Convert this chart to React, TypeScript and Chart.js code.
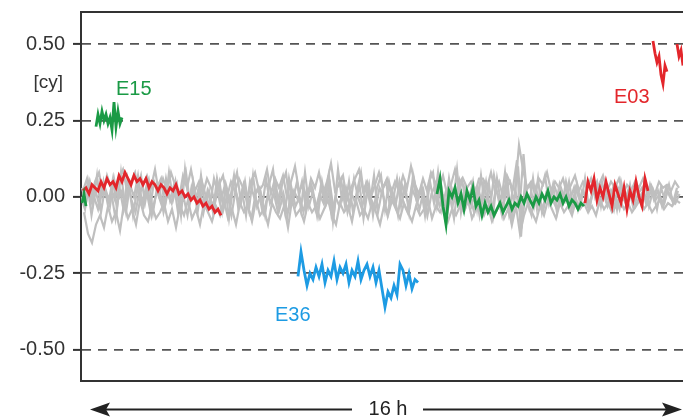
import React, { useEffect, useRef } from "react";
import { Chart, registerables } from "chart.js";

Chart.register(...registerables);

const yTicks = [-0.5, -0.25, 0, 0.25, 0.5];
const STEP_GRAY = 4;

const grayA = [
  0.02,0.06,-0.02,0.05,0.08,0.01,0.07,0.03,-0.01,0.06,0.09,0.02,0.05,0.08,0.00,0.04,0.07,0.03,0.09,0.01,
  0.06,0.02,0.08,0.04,-0.01,0.07,0.03,0.09,0.02,0.05,0.01,0.06,0.03,-0.02,0.04,0.07,0.00,0.05,0.02,0.06,
  0.03,-0.01,0.05,0.08,0.02,0.04,0.09,0.01,0.06,0.03,0.07,0.00,0.05,0.10,0.02,0.04,-0.01,0.06,0.03,0.08,
  0.01,0.05,0.11,0.02,0.04,0.07,-0.01,0.03,0.06,0.09,0.02,0.05,0.00,0.04,0.08,0.03,0.06,0.01,0.05,0.02,
  0.07,0.03,0.10,0.04,0.01,0.06,0.02,0.08,0.05,0.03,0.07,0.01,0.04,0.09,0.02,0.06,0.03,0.05,0.01,0.06,
  0.06,0.03,0.08,0.02,0.05,0.00,0.07,0.04,0.02,0.17,0.09,0.03,0.05,0.01,0.06,0.04,0.08,0.02,0.05,0.03,
  0.06,0.01,0.04,0.07,0.02,0.05,0.03,0.06,0.00,0.04,0.07,0.02,0.05,0.03,0.06,0.01,0.04,0.02,0.05,0.03,
  0.06,0.02,0.04,0.01,0.05,0.03,0.04,0.02,0.05,0.03,
];
const grayB = [
  -0.05,-0.12,-0.15,-0.09,-0.06,-0.10,-0.03,-0.08,-0.05,-0.11,-0.02,-0.07,-0.04,-0.09,-0.01,-0.06,-0.08,-0.03,-0.07,-0.05,
  -0.02,-0.08,-0.04,-0.10,-0.03,-0.06,-0.01,-0.07,-0.04,-0.09,-0.02,-0.05,-0.08,-0.03,-0.06,-0.01,-0.07,-0.04,-0.09,-0.02,
  -0.05,-0.03,-0.08,-0.01,-0.06,-0.04,-0.09,-0.02,-0.05,-0.07,-0.03,-0.10,-0.01,-0.06,-0.04,-0.08,-0.02,-0.05,-0.03,-0.07,
  -0.04,-0.01,-0.06,-0.09,-0.02,-0.05,-0.03,-0.08,-0.01,-0.06,-0.04,-0.07,-0.02,-0.05,-0.09,-0.03,-0.06,-0.01,-0.04,-0.07,
  -0.02,-0.05,-0.08,-0.03,-0.06,-0.04,-0.01,-0.07,-0.03,-0.05,-0.02,-0.08,-0.04,-0.06,-0.03,-0.05,-0.01,-0.07,-0.04,-0.02,
  -0.06,-0.03,-0.08,-0.05,-0.02,-0.07,-0.04,-0.09,-0.03,-0.12,-0.06,-0.02,-0.05,-0.08,-0.03,-0.06,-0.01,-0.04,-0.07,-0.02,
  -0.05,-0.03,-0.06,-0.01,-0.04,-0.02,-0.05,-0.03,-0.06,-0.01,-0.04,-0.02,-0.05,-0.03,-0.01,-0.04,-0.02,-0.05,-0.03,-0.01,
  -0.04,-0.02,-0.05,-0.03,-0.01,-0.04,-0.02,-0.03,-0.01,-0.02,
];
const grayC = [
  0.00,-0.04,0.05,-0.02,0.07,-0.05,0.03,-0.01,0.06,-0.04,0.08,-0.03,0.04,-0.06,0.02,0.07,-0.02,0.05,-0.05,0.03,
  0.06,-0.03,0.08,-0.01,0.04,-0.06,0.09,-0.02,0.05,-0.04,0.07,-0.03,0.02,-0.05,0.06,-0.01,0.04,-0.07,0.03,0.08,
  -0.02,0.05,-0.04,0.07,-0.03,0.01,-0.06,0.04,0.09,-0.02,0.03,-0.05,0.06,-0.01,0.05,-0.04,0.08,-0.03,0.02,-0.06,
  0.04,-0.02,0.07,-0.08,0.03,0.06,-0.03,0.05,-0.05,0.02,0.08,-0.02,0.04,-0.06,0.03,0.07,-0.04,0.05,-0.01,0.06,
  -0.03,0.04,-0.05,0.07,-0.02,0.03,-0.06,0.05,0.08,-0.03,0.04,-0.04,0.06,-0.02,0.09,-0.05,0.03,-0.01,0.05,-0.04,
  0.07,-0.03,0.04,-0.06,0.06,-0.02,0.08,-0.05,0.03,0.12,-0.13,0.05,-0.03,0.06,-0.04,0.02,0.07,-0.02,0.04,-0.05,
  0.03,-0.01,0.05,-0.03,0.04,-0.02,0.06,-0.04,0.02,0.05,-0.03,0.04,-0.02,0.03,-0.04,0.05,-0.01,0.03,-0.03,0.04,
  -0.02,0.05,-0.03,0.02,-0.04,0.03,-0.01,0.04,-0.02,0.03,
];
const grayD = [
  0.03,-0.02,0.05,0.00,-0.04,0.04,0.01,-0.03,0.06,-0.01,0.02,-0.05,0.04,0.00,0.07,-0.02,0.03,-0.04,0.05,0.01,
  -0.03,0.06,-0.01,0.04,-0.05,0.02,0.08,-0.02,0.03,-0.04,0.05,0.00,-0.03,0.06,0.01,-0.05,0.04,-0.01,0.07,-0.03,
  0.02,-0.06,0.05,0.00,0.03,-0.04,0.06,-0.02,0.01,-0.05,0.04,0.08,-0.03,0.02,-0.01,0.05,-0.04,0.03,0.00,-0.06,
  0.05,-0.02,0.04,-0.05,0.09,-0.01,0.03,-0.03,0.06,0.00,-0.04,0.04,-0.02,0.07,-0.05,0.02,0.05,-0.03,0.01,-0.06,
  0.04,0.00,-0.03,0.06,-0.01,0.03,-0.05,0.05,-0.02,0.08,-0.04,0.02,0.00,-0.07,0.04,0.06,-0.03,0.01,-0.05,0.03,
  -0.02,0.05,-0.04,0.07,0.00,-0.06,0.03,0.05,-0.02,0.10,-0.08,0.02,0.04,-0.03,0.06,-0.05,0.01,-0.02,0.04,0.00,
  -0.03,0.05,-0.01,0.03,-0.04,0.02,0.00,-0.03,0.04,-0.02,0.05,-0.01,0.02,-0.04,0.03,0.00,-0.02,0.04,-0.03,0.01,
  0.03,-0.02,0.04,-0.01,0.02,-0.03,0.03,0.00,-0.02,0.02,
];
const grayE = [
  -0.01,0.04,-0.06,0.02,-0.03,0.05,-0.02,0.01,-0.07,0.03,-0.04,0.06,-0.01,-0.05,0.02,-0.03,0.04,-0.06,0.00,0.03,
  -0.05,0.01,-0.02,0.05,-0.04,0.00,-0.06,0.03,-0.01,0.04,-0.05,0.02,-0.03,0.00,0.05,-0.04,0.01,-0.06,0.02,-0.02,
  0.04,-0.03,-0.07,0.01,0.03,-0.05,0.00,-0.02,0.05,-0.04,0.01,-0.06,0.03,-0.03,0.00,-0.05,0.02,0.04,-0.04,0.01,
  -0.02,0.05,-0.06,0.00,-0.03,0.03,-0.05,0.01,-0.02,0.04,-0.07,0.02,-0.01,-0.04,0.03,0.00,-0.06,0.02,-0.03,0.05,
  -0.02,-0.05,0.03,0.00,-0.04,0.02,-0.06,0.01,0.04,-0.03,0.00,-0.05,0.03,-0.02,0.05,-0.04,0.01,-0.03,0.02,-0.06,
  0.04,-0.01,-0.05,0.02,0.00,-0.03,0.05,-0.08,0.02,-0.04,0.14,-0.02,-0.06,0.03,-0.01,-0.04,0.02,0.00,-0.03,0.04,
  -0.02,0.01,-0.04,0.03,-0.01,0.02,-0.03,0.00,0.04,-0.02,0.01,-0.03,0.02,0.00,-0.04,0.03,-0.01,0.02,-0.03,0.00,
  0.02,-0.02,0.03,-0.01,0.01,-0.03,0.02,0.00,-0.02,0.01,
];

const red1Start = 2, red1Step = 3;
const red1 = [
  0.02,0.03,0.01,0.04,0.03,0.02,0.05,0.03,0.06,0.04,0.05,0.03,0.07,0.05,0.08,0.06,0.04,0.07,0.05,0.06,
  0.04,0.06,0.03,0.05,0.04,0.02,0.04,0.03,0.01,0.03,0.02,0.04,0.01,0.02,0.00,0.01,-0.01,0.00,-0.02,-0.01,
  -0.03,-0.02,-0.04,-0.03,-0.05,-0.04,-0.06,
];
const green0Start = 1, green0Step = 2;
const green0 = [-0.02, 0.01, -0.03];
const e15Start = 15, e15Step = 2;
const e15 = [0.23,0.27,0.24,0.28,0.25,0.27,0.24,0.26,0.22,0.31,0.23,0.28,0.24,0.26];
const e36Start = 217, e36Step = 3;
const e36 = [
  -0.26,-0.18,-0.24,-0.29,-0.25,-0.27,-0.23,-0.26,-0.22,-0.28,-0.24,-0.26,-0.21,-0.27,-0.23,-0.25,-0.22,-0.28,-0.24,-0.26,
  -0.21,-0.27,-0.24,-0.22,-0.26,-0.23,-0.28,-0.24,-0.30,-0.36,-0.31,-0.33,-0.29,-0.32,-0.22,-0.24,-0.29,-0.25,-0.30,-0.27,-0.28,
];
const green2Start = 356, green2Step = 3;
const green2 = [
  0.01,0.06,-0.03,-0.09,0.02,0.00,0.03,-0.02,0.01,-0.04,0.02,-0.01,0.03,-0.03,-0.01,-0.06,-0.02,-0.05,-0.03,-0.06,
  -0.04,-0.02,-0.05,-0.03,-0.01,-0.04,-0.02,-0.03,0.00,-0.02,0.01,-0.01,-0.03,0.00,-0.02,0.01,-0.01,0.02,-0.02,0.00,
  -0.01,0.01,-0.02,0.00,-0.03,-0.01,-0.02,-0.04,-0.02,-0.03,
];
const red2Start = 504, red2Step = 3;
const red2 = [-0.02,0.05,0.02,0.06,-0.01,0.03,0.00,0.05,0.01,-0.03,0.04,0.01,-0.02,0.03,-0.04,0.02,-0.01,0.05,0.00,-0.03,0.06,0.02];
const e03Start = 572, e03Step = 2;
const e03 = [0.51,0.47,0.44,0.46,0.40,0.37,0.43,0.41,null,null,null,null,0.50,0.46,0.48,0.43,0.45,0.40,0.44,0.42];

const labels = [
  { text: "E15", x: 35, y: 0.353, color: "#1a9a45" },
  { text: "E03", x: 533, y: 0.327, color: "#e3262b" },
  { text: "E36", x: 194, y: -0.389, color: "#1d9be3" },
];

const RED = "#e3262b";
const GREEN = "#1a9a45";
const BLUE = "#1d9be3";
const GRAY = "#bfbfbf";

function pts(start: number, step: number, vals: (number | null)[]) {
  return vals.map((v, i) => ({ x: start + i * step, y: v }));
}

const FONT = "'Liberation Sans', Arial, sans-serif";

export default function App() {
  const ref = useRef<HTMLCanvasElement>(null);
  useEffect(() => {
    document.body.style.margin = "0";
    document.body.style.overflow = "hidden";
    if (!ref.current) return;
    const line = (data: any, color: string, w: number) => ({
      data,
      borderColor: color,
      borderWidth: w,
      pointRadius: 0,
      tension: 0,
      spanGaps: false,
      fill: false,
    });
    const deco = {
      id: "deco",
      afterDraw(chart: any) {
        const { ctx, chartArea } = chart;
        const xs = chart.scales.x;
        const ys = chart.scales.y;
        ctx.save();
        ctx.strokeStyle = "#333";
        ctx.lineWidth = 2;
        ctx.beginPath();
        ctx.moveTo(chartArea.left - 1, chartArea.top);
        ctx.lineTo(chartArea.right + 2, chartArea.top);
        ctx.moveTo(chartArea.left - 1, chartArea.bottom);
        ctx.lineTo(chartArea.right + 2, chartArea.bottom);
        ctx.stroke();
        ctx.font = `20px ${FONT}`;
        ctx.textBaseline = "middle";
        ctx.textAlign = "left";
        for (const l of labels) {
          ctx.fillStyle = l.color;
          ctx.fillText(l.text, xs.getPixelForValue(l.x), ys.getPixelForValue(l.y));
        }
        ctx.fillStyle = "#333";
        ctx.textAlign = "right";
        ctx.font = `19px ${FONT}`;
        ctx.fillText("[cy]", chartArea.left - 18, ys.getPixelForValue(0.375));
        const ay = chartArea.bottom + 28.5;
        const x0 = chartArea.left + 9;
        const x1 = chartArea.right - 1;
        ctx.font = `20px ${FONT}`;
        ctx.textAlign = "center";
        ctx.fillStyle = "#222";
        const cx = 307 + chartArea.left;
        ctx.fillText("16 h", cx, ay);
        ctx.strokeStyle = "#222";
        ctx.lineWidth = 2;
        ctx.beginPath();
        ctx.moveTo(x0 + 10, ay);
        ctx.lineTo(cx - 36, ay);
        ctx.moveTo(cx + 35, ay);
        ctx.lineTo(x1 - 10, ay);
        ctx.stroke();
        ctx.beginPath();
        ctx.moveTo(x0, ay);
        ctx.lineTo(x0 + 20, ay - 7);
        ctx.lineTo(x0 + 16, ay);
        ctx.lineTo(x0 + 20, ay + 7);
        ctx.closePath();
        ctx.fill();
        ctx.beginPath();
        ctx.moveTo(x1, ay);
        ctx.lineTo(x1 - 20, ay - 7);
        ctx.lineTo(x1 - 16, ay);
        ctx.lineTo(x1 - 20, ay + 7);
        ctx.closePath();
        ctx.fill();
        ctx.restore();
      },
    };
    const chart = new Chart(ref.current, {
      type: "line",
      data: {
        datasets: [
          line(pts(e03Start, e03Step, e03), RED, 2.8),
          line(pts(red2Start, red2Step, red2), RED, 2.8),
          line(pts(green2Start, green2Step, green2), GREEN, 2.8),
          line(pts(e36Start, e36Step, e36), BLUE, 2.8),
          line(pts(e15Start, e15Step, e15), GREEN, 2.8),
          line(pts(green0Start, green0Step, green0), GREEN, 2.8),
          line(pts(red1Start, red1Step, red1), RED, 2.8),
          line(pts(0, STEP_GRAY, grayC), GRAY, 2.2),
          line(pts(1, STEP_GRAY, grayD), GRAY, 2.2),
          line(pts(3, STEP_GRAY, grayB), GRAY, 2.2),
          line(pts(2, STEP_GRAY, grayA), GRAY, 2.2),
          line(pts(2.5, STEP_GRAY, grayE), GRAY, 2.2),
        ] as any,
      },
      options: {
        animation: false,
        responsive: true,
        maintainAspectRatio: false,
        layout: { padding: { top: 12, bottom: 38, left: 0, right: 0 } },
        plugins: { legend: { display: false }, tooltip: { enabled: false } },
        scales: {
          x: { type: "linear", min: 0, max: 602, display: false },
          y: {
            min: -0.602,
            max: 0.605,
            afterFit(s: any) {
              s.width = 81;
              s.paddingTop = 0;
              s.paddingBottom = 0;
            },
            afterBuildTicks(s: any) { s.ticks = yTicks.map((v) => ({ value: v })); },
            ticks: {
              padding: 8,
              color: "#333",
              font: { family: FONT, size: 20 },
              callback: (v: any) => Number(v).toFixed(2),
            },
            grid: {
              color: "#555",
              lineWidth: 1.8,
              tickLength: 8,
              tickColor: "#333",
              tickWidth: 2,
              tickBorderDash: [],
            },
            border: { display: true, color: "#333", width: 2, dash: [9, 7] },
          },
        },
      } as any,
      plugins: [deco],
    });
    return () => chart.destroy();
  }, []);
  return (
    <div style={{ width: 683, height: 419, position: "relative", overflow: "hidden" }}>
      <canvas ref={ref} />
    </div>
  );
}
